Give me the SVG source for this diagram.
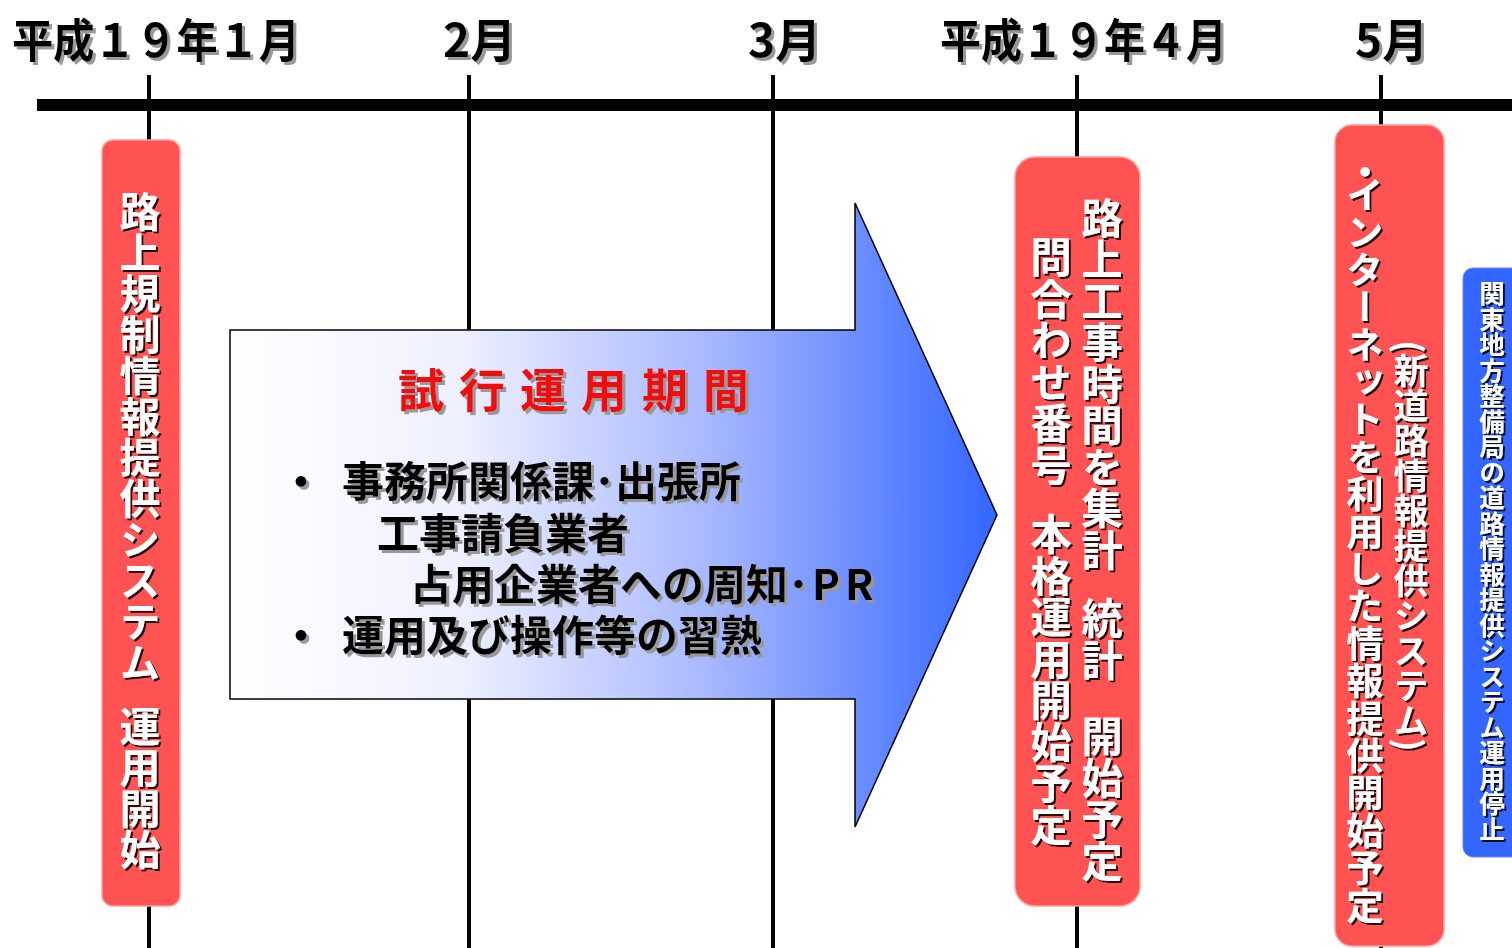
<svg xmlns="http://www.w3.org/2000/svg" width="1512" height="948" viewBox="0 0 1512 948">
<defs>
<linearGradient id="ag" x1="230" y1="0" x2="997" y2="0" gradientUnits="userSpaceOnUse">
<stop offset="0" stop-color="#ffffff"/>
<stop offset="0.3" stop-color="#eef0ff"/>
<stop offset="0.62" stop-color="#a9b9ff"/>
<stop offset="1" stop-color="#3366ff"/>
</linearGradient>
<filter id="shw" x="-30%" y="-10%" width="160%" height="120%"><feDropShadow dx="2" dy="2" stdDeviation="0.4" flood-color="#000" flood-opacity="0.85"/></filter>
<filter id="shg" x="-10%" y="-20%" width="120%" height="150%"><feDropShadow dx="3" dy="3" stdDeviation="0.5" flood-color="#999" flood-opacity="1"/></filter>
</defs>
<style>
text{font-family:"Noto Sans CJK JP","Noto Sans CJK SC",sans-serif;font-weight:700}
.v{writing-mode:vertical-rl;fill:#fff;filter:url(#shw)}
.t{fill:#000;filter:url(#shg);font-size:46px}
.b{fill:#000;filter:url(#shg);font-size:42px}
.box{fill:#ff5252;stroke:#ff9c9c;stroke-width:1.5}
.tick{stroke:#000;stroke-width:4}
</style>
<rect width="1512" height="948" fill="#fff"/>

<g id="timeline">
<rect x="37" y="99" width="1475" height="12" fill="#000"/>
<line class="tick" x1="149" y1="75" x2="149" y2="948"/>
<line class="tick" x1="469" y1="75" x2="469" y2="948"/>
<line class="tick" x1="773" y1="75" x2="773" y2="948"/>
<line class="tick" x1="1077" y1="75" x2="1077" y2="948"/>
<line class="tick" x1="1381" y1="75" x2="1381" y2="948"/>
<text class="t" x="12" y="57" textLength="288" lengthAdjust="spacingAndGlyphs">平成１９年１月</text>
<text class="t" x="443" y="57">2月</text>
<text class="t" x="748" y="57">3月</text>
<text class="t" x="940" y="57" textLength="287" lengthAdjust="spacingAndGlyphs">平成１９年４月</text>
<text class="t" x="1355" y="57">5月</text>
</g>

<g id="trial-period">
<polygon points="230,330 855,330 855,203 997,515 855,827 855,699 230,699" fill="url(#ag)" stroke="#000" stroke-width="1.5"/>
<text x="398" y="407" font-size="46" letter-spacing="15" fill="#f01010" filter="url(#shg)">試行運用期間</text>
<text class="b"><tspan x="280" y="497">・</tspan><tspan x="342" y="497">事務所関係課･出張所</tspan><tspan x="377" y="549">工事請負業者</tspan><tspan x="410" y="600">占用企業者への周知･</tspan><tspan x="812" y="600">P</tspan><tspan x="845" y="600">R</tspan><tspan x="280" y="651">・</tspan><tspan x="342" y="651">運用及び操作等の習熟</tspan></text>
</g>

<g id="start-jan">
<rect class="box" x="102" y="140" width="78" height="766" rx="11"/>
<text class="v" font-size="41"><tspan x="140" y="191">路上規制情報提供システム</tspan><tspan x="140" y="706">運用開始</tspan></text>
</g>

<g id="apr-start">
<rect class="box" x="1015" y="157" width="125" height="749" rx="20"/>
<text class="v" font-size="41.5"><tspan x="1102" y="197">路上工事時間を集計</tspan><tspan x="1102" y="597">統計</tspan><tspan x="1102" y="715">開始予定</tspan><tspan x="1051" y="236">問合わせ番号</tspan><tspan x="1051" y="513">本格運用開始予定</tspan></text>
</g>

<g id="may-start">
<rect class="box" x="1335" y="125" width="109" height="821" rx="17"/>
<text x="1365" y="186" font-size="37" text-anchor="middle" fill="#fff" filter="url(#shw)">・</text>
<text class="v" x="1365" y="176" font-size="37.4">インターネットを利用した情報提供開始予定</text>
<text class="v" x="1411" y="340" font-size="35">(新道路情報提供システム)</text>
</g>

<g id="old-system-stop">
<rect x="1463" y="268" width="60" height="589" rx="10" fill="#3366ff" stroke="#6a8cff" stroke-width="1"/>
<text class="v" x="1492" y="281" font-size="25.5">関東地方整備局の道路情報提供システム運用停止</text>
</g>
</svg>
